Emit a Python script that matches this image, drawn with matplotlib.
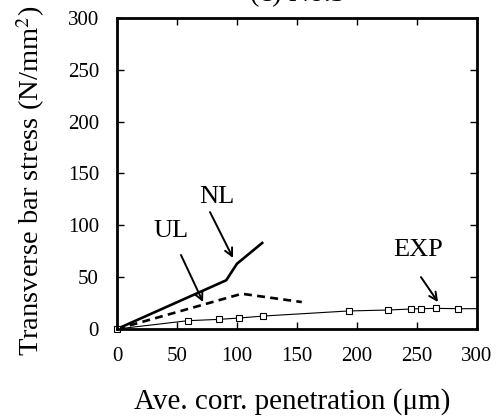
import matplotlib
matplotlib.use("Agg")
import matplotlib.pyplot as plt

nl_x = [0, 91, 100, 121]
nl_y = [0, 47, 63, 83]
ul_x = [0, 104, 154]
ul_y = [0, 34, 26]
exp_x = [0, 59, 85, 102, 122, 193, 226, 245, 253, 266, 284, 300]
exp_y = [0, 8, 9.3, 10.6, 12.5, 17.4, 18.3, 19.3, 19.6, 19.9, 19.6, 19.6]
ticks = [0, 50, 100, 150, 200, 250, 300]

plt.rcParams['font.family'] = ['Liberation Serif', 'DejaVu Serif']
plt.rcParams['mathtext.fontset'] = 'stix'

W, H = 499, 419
fig = plt.figure(figsize=(W/100, H/100), dpi=100)
ax = fig.add_axes([117/W, 1-329/H, 360/W, 311/H])

ax.plot(nl_x, nl_y, color='black', lw=1.9, solid_joinstyle='miter')
ax.plot(ul_x, ul_y, color='black', lw=1.9, ls=(0, (3, 2)))
ax.plot(exp_x, exp_y, color='black', lw=0.8, marker='s', ms=4.5,
        mfc='white', mec='black', mew=0.8, clip_on=False, markevery=list(range(len(exp_x)-1)))

ax.set_xlim(0, 300)
ax.set_ylim(0, 300)
ax.set_xticks(ticks)
ax.set_yticks(ticks)
ax.tick_params(direction='in', length=5, width=1, top=True, right=True,
               labelsize=15, pad=13)
for s in ax.spines.values():
    s.set_linewidth(2)

ax.set_xlabel('Ave. corr. penetration (μm)', fontsize=21, labelpad=16)
ax.set_ylabel('Transverse bar stress (N/mm$^2$)', fontsize=20.5, labelpad=15)
ax.xaxis.label.set_x(0.4875)
ax.yaxis.label.set_y(0.476)

fig.text(297/W, 1-1.5/H, '(c) No.3', fontsize=20.5, ha='center', va='baseline')

arrow = dict(arrowstyle='->', color='black', lw=1.4, mutation_scale=14,
             shrinkA=0, shrinkB=0)
ax.annotate('', xy=(96.7, 68.5), xytext=(77.5, 112.8), arrowprops=arrow)
ax.annotate('', xy=(71.7, 26.0), xytext=(53.3, 71.4), arrowprops=arrow)
ax.annotate('', xy=(267.5, 26.0), xytext=(253.3, 50.1), arrowprops=arrow)
ax.text(83.3, 127.8, 'NL', fontsize=19, ha='center', va='center')
ax.text(45.4, 95.0, 'UL', fontsize=19, ha='center', va='center')
ax.text(251.3, 76.2, 'EXP', fontsize=19, ha='center', va='center')

fig.savefig('out.png', dpi=100)
